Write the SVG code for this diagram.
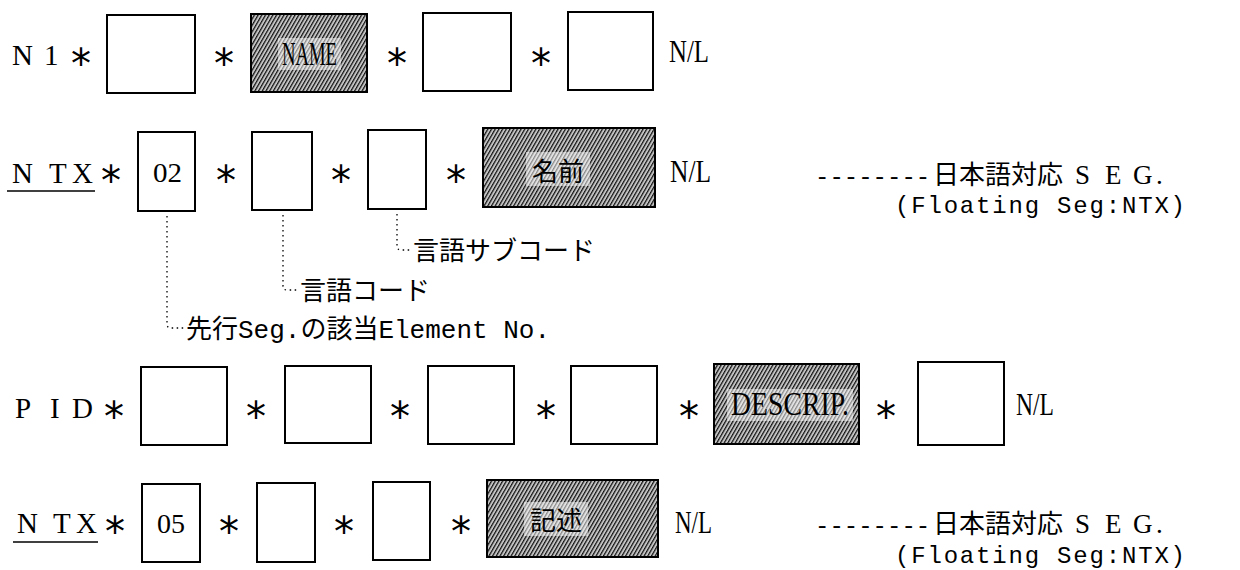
<svg xmlns="http://www.w3.org/2000/svg" width="1240" height="570" viewBox="0 0 1240 570">
<defs>
<style>
.box{fill:#fff;stroke:#000;stroke-width:2}
.shade{fill:url(#hatch);stroke:#000;stroke-width:2}
.halo{fill:#fff;fill-opacity:0.5}
.seg{font-family:"Liberation Serif",serif;font-size:29px;fill:#000}
.ast{font-family:"DejaVu Sans",sans-serif;font-size:40px;fill:#000}
.lbl{font-family:"Liberation Serif",serif;font-size:33px;fill:#000}
.num{font-family:"Liberation Serif",serif;font-size:28px;fill:#000}
.nl{font-family:"Liberation Serif",serif;font-size:31px;fill:#000}
.jp{font-family:"Noto Sans CJK JP",sans-serif;font-size:26px;fill:#000}
.mix{font-family:"Liberation Mono","Noto Sans CJK JP",monospace;font-size:26px;fill:#000}
.mono{font-family:"Liberation Mono",monospace;fill:#000}
.ser{font-family:"Liberation Serif",serif;font-size:27px}
.dot{fill:none;stroke:#000;stroke-width:1.3;stroke-dasharray:1.5 3.5}
.ul{stroke:#000;stroke-width:1.6}
</style>
<pattern id="hatch" patternUnits="userSpaceOnUse" width="3.2" height="10" patternTransform="rotate(30)">
<rect width="3.2" height="10" fill="#c4c4c4"/>
<line x1="0.6" y1="0" x2="0.6" y2="10" stroke="#111" stroke-width="1.25"/>
</pattern>
</defs>
<rect width="1240" height="570" fill="#fff"/>

<!-- Row 1: N1 -->
<g id="n1-row">
<text class="seg" x="12 31 44" y="65">N 1</text>
<text class="ast" x="71" y="78">*</text>
<text class="ast" x="214" y="78">*</text>
<text class="ast" x="387" y="78">*</text>
<text class="ast" x="531" y="78">*</text>
<text class="nl" x="669" y="62" textLength="40" lengthAdjust="spacingAndGlyphs">N/L</text>
</g>
<g id="n1-e1"><rect class="box" x="107" y="15" width="88" height="78"/></g>
<g id="n1-name"><rect class="shade" x="251" y="14" width="116" height="78"/><rect class="halo" x="278" y="38" width="63" height="32"/><text class="lbl" x="282" y="65" textLength="55" lengthAdjust="spacingAndGlyphs">NAME</text></g>
<g id="n1-e3"><rect class="box" x="423" y="13" width="88" height="78"/></g>
<g id="n1-e4"><rect class="box" x="568" y="12" width="85" height="78"/></g>

<!-- Row 2: NTX -->
<g id="ntx1-row">
<text class="seg" x="12 49 72" y="183">NTX</text>
<line class="ul" x1="7" y1="191" x2="95" y2="191"/>
<text class="ast" x="101" y="195">*</text>
<text class="ast" x="216" y="195">*</text>
<text class="ast" x="331" y="195">*</text>
<text class="ast" x="446" y="195">*</text>
<text class="nl" x="670" y="182" textLength="41" lengthAdjust="spacingAndGlyphs">N/L</text>
</g>
<g id="ntx1-e1"><rect class="box" x="138" y="132" width="57" height="79"/><text class="num" x="153" y="182" textLength="29" lengthAdjust="spacingAndGlyphs">02</text></g>
<g id="ntx1-e2"><rect class="box" x="252" y="132" width="60" height="78"/></g>
<g id="ntx1-e3"><rect class="box" x="368" y="130" width="58" height="79"/></g>
<g id="ntx1-name"><rect class="shade" x="483" y="128" width="172" height="79"/><rect class="halo" x="526" y="152" width="64" height="34"/><text class="jp" x="532" y="181">名前</text></g>
<g id="ntx1-note">
<text x="815" y="184"><tspan class="mono" font-size="24">--------</tspan><tspan class="jp" x="933">日本語対応</tspan><tspan class="ser" x="1075">S</tspan><tspan class="ser" x="1105">E</tspan><tspan class="ser" x="1133">G</tspan><tspan class="ser" x="1156">.</tspan></text>
<text class="mono" x="895" y="213" font-size="24" textLength="290" lengthAdjust="spacing">(Floating Seg:NTX)</text>
</g>

<!-- Dotted leader labels -->
<g id="lbl-subcode"><text class="jp" x="413" y="260">言語サブコード</text></g>
<g id="lbl-code"><text class="jp" x="300" y="300">言語コード</text></g>
<g id="lbl-elem"><text class="mix" x="186" y="338">先行Seg.の該当Element No.</text></g>

<!-- Row 3: PID -->
<g id="pid-row">
<text class="seg" x="15 50 72" y="418">PID</text>
<text class="ast" x="104" y="431">*</text>
<text class="ast" x="246" y="431">*</text>
<text class="ast" x="390" y="431">*</text>
<text class="ast" x="536" y="431">*</text>
<text class="ast" x="679" y="431">*</text>
<text class="ast" x="876" y="431">*</text>
<text class="nl" x="1016" y="415" textLength="38" lengthAdjust="spacingAndGlyphs">N/L</text>
</g>
<g id="pid-e1"><rect class="box" x="141" y="367" width="86" height="78"/></g>
<g id="pid-e2"><rect class="box" x="285" y="366" width="86" height="77"/></g>
<g id="pid-e3"><rect class="box" x="428" y="366" width="86" height="78"/></g>
<g id="pid-e4"><rect class="box" x="571" y="366" width="86" height="78"/></g>
<g id="pid-descrip"><rect class="shade" x="714" y="364" width="145" height="80"/><rect class="halo" x="727" y="389" width="126" height="32"/><text class="lbl" x="731" y="415" textLength="118" lengthAdjust="spacingAndGlyphs">DESCRIP.</text></g>
<g id="pid-e6"><rect class="box" x="918" y="362" width="86" height="83"/></g>

<!-- Row 4: NTX -->
<g id="ntx2-row">
<text class="seg" x="17 53 76" y="533">NTX</text>
<line class="ul" x1="13" y1="542" x2="98" y2="542"/>
<text class="ast" x="105" y="546">*</text>
<text class="ast" x="219" y="546">*</text>
<text class="ast" x="334" y="546">*</text>
<text class="ast" x="451" y="546">*</text>
<text class="nl" x="675" y="533" textLength="37" lengthAdjust="spacingAndGlyphs">N/L</text>
</g>
<g id="ntx2-e1"><rect class="box" x="142" y="484" width="58" height="78"/><text class="num" x="157" y="533" textLength="28" lengthAdjust="spacingAndGlyphs">05</text></g>
<g id="ntx2-e2"><rect class="box" x="257" y="483" width="58" height="79"/></g>
<g id="ntx2-e3"><rect class="box" x="373" y="482" width="57" height="78"/></g>
<g id="ntx2-desc"><rect class="shade" x="487" y="480" width="171" height="77"/><rect class="halo" x="524" y="502" width="64" height="34"/><text class="jp" x="530" y="530">記述</text></g>
<g id="ntx2-note">
<text x="815" y="533"><tspan class="mono" font-size="24">--------</tspan><tspan class="jp" x="933">日本語対応</tspan><tspan class="ser" x="1075">S</tspan><tspan class="ser" x="1105">E</tspan><tspan class="ser" x="1133">G</tspan><tspan class="ser" x="1156">.</tspan></text>
<text class="mono" x="895" y="563" font-size="24" textLength="290" lengthAdjust="spacing">(Floating Seg:NTX)</text>
</g>

<!-- Connectors -->
<g id="connectors">
<path class="dot" d="M167,216 V324 Q167,328 171,328 H184"/>
<path class="dot" d="M283,215 V286 Q283,290 287,290 H298"/>
<path class="dot" d="M397,214 V246 Q397,250 401,250 H411"/>
</g>
</svg>
